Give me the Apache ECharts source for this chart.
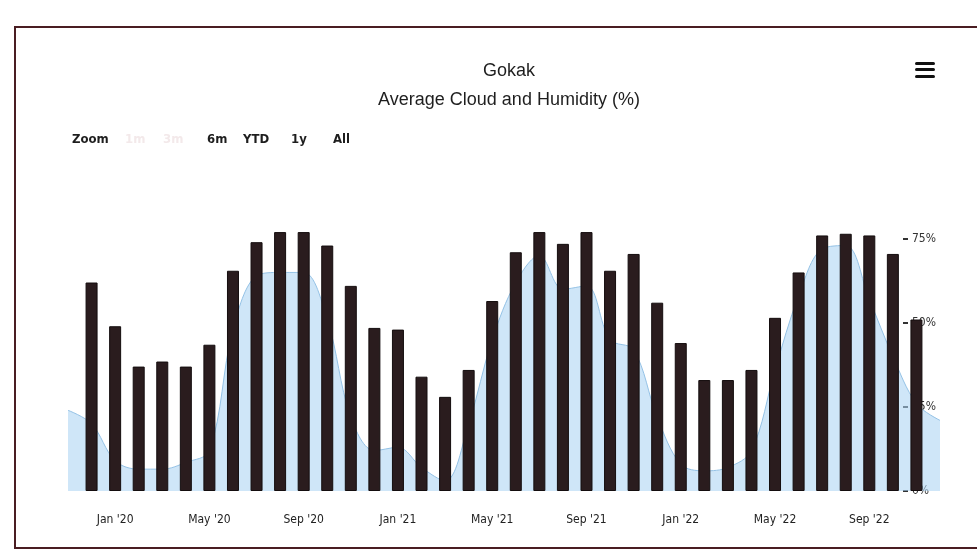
<!DOCTYPE html>
<html>
<head>
<meta charset="utf-8">
<title>Gokak</title>
<script src="https://cdn.jsdelivr.net/npm/echarts@6/dist/echarts.min.js"></script>
<style>
  html, body { margin: 0; padding: 0; background: #fff; }
  #wrap { position: relative; width: 977px; height: 552px; overflow: hidden; }
  #myCharts { width: 977px; height: 552px; }
  .frame {
    position: absolute; left: 14px; top: 26px; width: 1000px; height: 519px;
    border: 2px solid #4a1d22; border-right: none; pointer-events: none;
  }
</style>
</head>
<body>
<div id="wrap">
  <div id="myCharts"></div>
  <div class="frame"></div>
</div>
<script>
// months on the x axis (Nov '19 .. Dec '22)
var months = [
  "Nov '19", "Dec '19",
  "Jan '20", "Feb '20", "Mar '20", "Apr '20", "May '20", "Jun '20",
  "Jul '20", "Aug '20", "Sep '20", "Oct '20", "Nov '20", "Dec '20",
  "Jan '21", "Feb '21", "Mar '21", "Apr '21", "May '21", "Jun '21",
  "Jul '21", "Aug '21", "Sep '21", "Oct '21", "Nov '21", "Dec '21",
  "Jan '22", "Feb '22", "Mar '22", "Apr '22", "May '22", "Jun '22",
  "Jul '22", "Aug '22", "Sep '22", "Oct '22", "Nov '22", "Dec '22"
];
// humidity (%) - columns
var humidity = [
  null, 62,
  49, 37, 38.5, 37, 43.5, 65.5, 74, 77, 77, 73, 61, 48.5,
  48, 34, 28, 36, 56.5, 71, 77, 73.5, 77, 65.5, 70.5, 56,
  44, 33, 33, 36, 51.5, 65, 76, 76.5, 76, 70.5, 51, null
];
// cloud (%) - area
var cloud = [
  24, 20,
  9, 6.5, 6.5, 8.5, 12, 48, 64, 65, 65, 51, 22, 12,
  13, 7, 3, 20, 45, 62, 70, 60, 61, 45, 42, 22,
  8, 6, 7, 12, 36, 58, 72, 73, 57, 40, 26, 21
];
var yTicks = [0, 25, 50, 75];
var zoomButtons = ["Zoom", "1m", "3m", "6m", "YTD", "1y", "All"];
var zoomButtonX = [72, 125, 163, 207, 243, 291, 333];

var chart = echarts.init(document.getElementById("myCharts"));

var graphics = zoomButtons.map(function (t, i) {
  var faint = t === "1m" || t === "3m";
  return {
    type: "text",
    left: zoomButtonX[i],
    top: 133,
    style: {
      text: t,
      fill: faint ? "#f3e9ea" : "#1e1e1e",
      font: "bold 13px 'DejaVu Sans Condensed', 'Liberation Sans', sans-serif"
    }
  };
});
// export menu icon
[62, 68, 75].forEach(function (y) {
  graphics.push({
    type: "rect",
    shape: { x: 915, y: y, width: 20, height: 3, r: 1.5 },
    style: { fill: "#111" }
  });
});

var option = {
  animation: false,
  backgroundColor: "#fff",
  title: {
    text: "Gokak",
    subtext: "Average Cloud and Humidity (%)",
    left: 504,
    textAlign: "center",
    top: 57,
    itemGap: 11,
    textStyle: {
      fontFamily: "'Liberation Sans', Arial, sans-serif",
      fontSize: 18,
      fontWeight: "normal",
      color: "#1e1e1e"
    },
    subtextStyle: {
      fontFamily: "'Liberation Sans', Arial, sans-serif",
      fontSize: 18,
      color: "#1e1e1e"
    }
  },
  graphic: graphics,
  grid: { left: 68, right: 37, top: 222, bottom: 61 },
  xAxis: {
    type: "category",
    data: months,
    boundaryGap: false,
    axisLine: { show: false },
    axisTick: { show: false },
    axisLabel: {
      margin: 23,
      fontSize: 12,
      color: "#222",
      fontFamily: "'DejaVu Sans Condensed', 'Liberation Sans', sans-serif",
      interval: function (idx, name) {
        return /^(Jan|May|Sep)/.test(name);
      }
    }
  },
  yAxis: {
    type: "value",
    position: "right",
    offset: -37,
    min: 0,
    max: 80,
    interval: 25,
    splitLine: { show: false },
    axisLine: { show: false },
    axisTick: {
      show: true,
      length: 5,
      customValues: yTicks,
      lineStyle: { color: "#333", width: 2 }
    },
    axisLabel: {
      margin: 9,
      fontSize: 12,
      color: "#333",
      fontFamily: "'DejaVu Sans Condensed', 'Liberation Sans', sans-serif",
      customValues: yTicks,
      formatter: "{value}%"
    }
  },
  series: [
    {
      name: "Cloud",
      type: "line",
      data: cloud,
      smooth: 0.35,
      symbol: "none",
      lineStyle: { color: "#94c2e6", width: 1 },
      areaStyle: { color: "rgba(172, 211, 243, 0.82)" },
      z: 2
    },
    {
      name: "Humidity",
      type: "bar",
      data: humidity,
      barWidth: 12,
      itemStyle: {
        color: "#2a1c1e",
        borderColor: "#140d0e",
        borderWidth: 1
      },
      z: 3
    }
  ]
};

chart.setOption(option);
</script>
</body>
</html>
